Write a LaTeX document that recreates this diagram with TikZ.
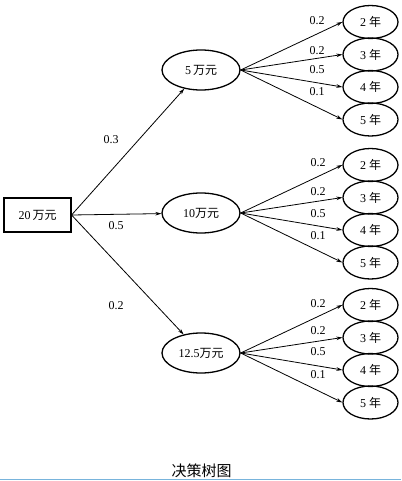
\documentclass[tikz,border=0pt]{standalone}
\usepackage{fontspec}
\setmainfont{Liberation Serif}
\newfontfamily\cjk{Noto Sans CJK SC}
\usetikzlibrary{arrows.meta,shapes.geometric}
\begin{document}
\begin{tikzpicture}[x=1pt,y=-1pt,
  rootbox/.style={draw,line width=1.1pt,minimum width=67pt,minimum height=34pt,inner sep=0pt,font=\fontsize{12}{13}\selectfont},
  midnode/.style={draw,ellipse,line width=1.3pt,minimum width=78pt,minimum height=40pt,inner sep=0pt,font=\fontsize{12}{13}\selectfont},
  leafnode/.style={draw,ellipse,line width=1.3pt,minimum width=55pt,minimum height=33pt,inner sep=0pt,font=\fontsize{12}{13}\selectfont},
  edge/.style={line width=0.8pt,-{Stealth[length=6pt,width=3.6pt]}},
  prob/.style={font=\fontsize{12}{13}\selectfont,inner sep=0pt}]
\useasboundingbox (0,0) rectangle (401,481);
\fill[white] (0,0) rectangle (401,481);
\draw[color={rgb,255:red,120;green,180;blue,220},line width=0.8pt] (0,479.5) -- (401,479.5);

\node[rootbox] (root) at (37.5,215) {20{\cjk\,万元}};

\node[midnode] (m1) at (201,70) {5{\cjk\,万元}};
\node[midnode] (m2) at (201,213) {10{\cjk 万元}};
\node[midnode] (m3) at (201,353) {12.5{\cjk 万元}};

\draw[edge] (root.east) -- (m1);
\draw[edge] (root.east) -- (m2);
\draw[edge] (root.east) -- (m3);
\node[prob] (p1) at (111,140) {0.3};
\node[prob] (p2) at (116,226) {0.5};
\node[prob] (p3) at (116,306) {0.2};

% top group
\node[leafnode] (a2) at (370.5,22) {2 {\cjk 年}};
\node[leafnode] (a3) at (370.5,54.5) {3 {\cjk 年}};
\node[leafnode] (a4) at (370.5,87) {4 {\cjk 年}};
\node[leafnode] (a5) at (370.5,119.5) {5 {\cjk 年}};
% middle group
\node[leafnode] (b2) at (370.5,165) {2 {\cjk 年}};
\node[leafnode] (b3) at (370.5,197.5) {3 {\cjk 年}};
\node[leafnode] (b4) at (370.5,230) {4 {\cjk 年}};
\node[leafnode] (b5) at (370.5,262.5) {5 {\cjk 年}};
% bottom group
\node[leafnode] (c2) at (370.5,305) {2 {\cjk 年}};
\node[leafnode] (c3) at (370.5,337.5) {3 {\cjk 年}};
\node[leafnode] (c4) at (370.5,370) {4 {\cjk 年}};
\node[leafnode] (c5) at (370.5,402.5) {5 {\cjk 年}};

\foreach \m/\g in {m1/a,m2/b,m3/c}{
  \foreach \k in {2,3,4,5}{
    \draw[edge] (\m.east) -- (\g\k.west);
  }
}

\node[prob] (qa2) at (317,21) {0.2};
\node[prob] (qa3) at (317,51) {0.2};
\node[prob] (qa4) at (317,70) {0.5};
\node[prob] (qa5) at (317,92) {0.1};

\node[prob] (qb2) at (318,163) {0.2};
\node[prob] (qb3) at (318,192) {0.2};
\node[prob] (qb4) at (318,214) {0.5};
\node[prob] (qb5) at (318,236) {0.1};

\node[prob] (qc2) at (318,304) {0.2};
\node[prob] (qc3) at (318,331) {0.2};
\node[prob] (qc4) at (318,352) {0.5};
\node[prob] (qc5) at (318,375) {0.1};

\node[font=\cjk\fontsize{15}{16}\selectfont,inner sep=0pt] (cap) at (201.5,471) {决策树图};
\end{tikzpicture}
\end{document}
